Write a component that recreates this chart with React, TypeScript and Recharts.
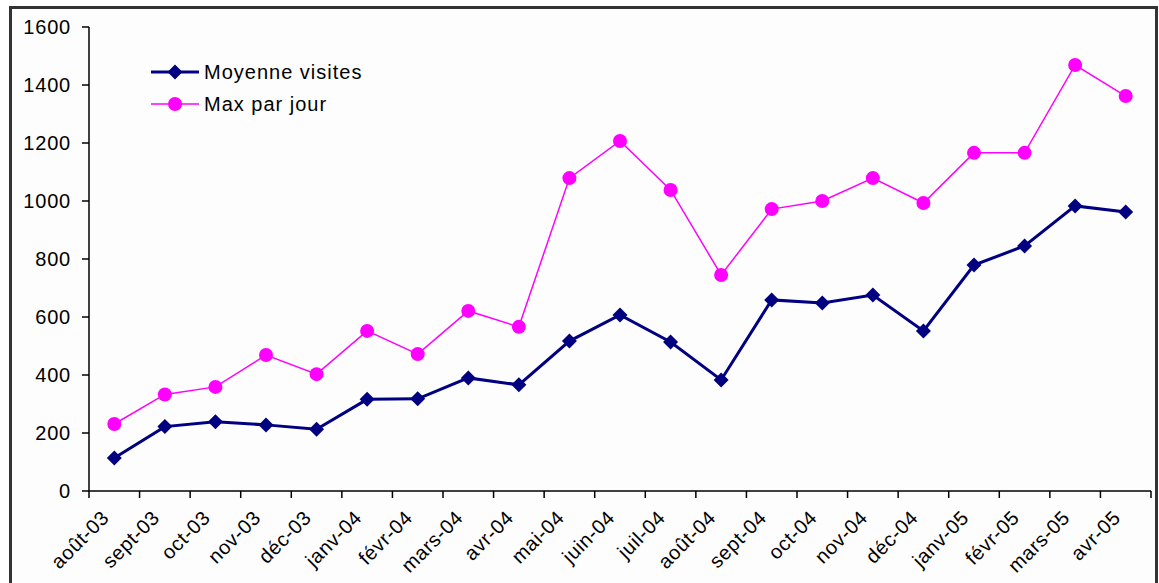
import React from 'react';
import { LineChart, Line, XAxis, YAxis } from 'recharts';

// months shown on the category axis
const months = [
  'août-03', 'sept-03', 'oct-03', 'nov-03', 'déc-03', 'janv-04', 'févr-04',
  'mars-04', 'avr-04', 'mai-04', 'juin-04', 'juil-04', 'août-04', 'sept-04',
  'oct-04', 'nov-04', 'déc-04', 'janv-05', 'févr-05', 'mars-05', 'avr-05',
];

// values
const moyenneVisites = [
  114, 222, 239, 228, 213, 316, 318, 390, 366, 517, 607,
  514, 383, 659, 648, 676, 552, 779, 845, 983, 962,
];
const maxParJour = [
  231, 333, 359, 469, 403, 552, 472, 621, 566, 1079, 1207,
  1038, 745, 972, 1000, 1079, 993, 1166, 1166, 1469, 1362,
];

const yTicks = [0, 200, 400, 600, 800, 1000, 1200, 1400, 1600];

const seriesNames = ['Moyenne visites', 'Max par jour'];

const NAVY = '#000080';
const MAGENTA = '#FF00FF';
const FONT = '"Liberation Sans", Arial, sans-serif';

const W = 1159;
const H = 583;
const PLOT_LEFT = 89;
const PLOT_RIGHT = 1151;
const HALF_BAND = (PLOT_RIGHT - PLOT_LEFT) / months.length / 2;

const data = months.map((m, i) => ({
  month: m,
  moyenne: moyenneVisites[i],
  max: maxParJour[i],
}));

const Diamond = (props: any) => {
  const { cx, cy } = props;
  if (cx == null || cy == null) return null;
  const s = 7.5;
  return (
    <polygon
      points={`${cx},${cy - s} ${cx + s},${cy} ${cx},${cy + s} ${cx - s},${cy}`}
      fill={NAVY}
    />
  );
};

const Circle = (props: any) => {
  const { cx, cy } = props;
  if (cx == null || cy == null) return null;
  return <circle cx={cx} cy={cy} r={7} fill={MAGENTA} />;
};

// Excel style: tick marks sit between the categories, label rotated -45°
const MonthTick = (props: any) => {
  const { x, y, payload, index } = props;
  const last = index === months.length - 1;
  const ax = x - 4;
  const ay = y + 28;
  return (
    <g>
      <line x1={x - HALF_BAND} y1={y} x2={x - HALF_BAND} y2={y + 7} stroke="#000" strokeWidth={1.5} />
      {last && (
        <line x1={x + HALF_BAND} y1={y} x2={x + HALF_BAND} y2={y + 7} stroke="#000" strokeWidth={1.5} />
      )}
      <text
        x={ax}
        y={ay}
        textAnchor="end"
        transform={`rotate(-45, ${ax}, ${ay})`}
        fontSize={20}
        letterSpacing={0.6}
        fill="#000"
        fontFamily={FONT}
      >
        {payload.value}
      </text>
    </g>
  );
};

const LegendBox = () => (
  <div
    style={{
      position: 'fixed',
      left: 149,
      top: 56,
      fontFamily: FONT,
      fontSize: 20,
      letterSpacing: 1,
      color: '#000',
    }}
  >
    {seriesNames.map((name, i) => (
      <div key={name} style={{ display: 'flex', alignItems: 'center', height: 32 }}>
        <svg width={52} height={20}>
          <line x1={2} y1={10} x2={50} y2={10} stroke={i === 0 ? NAVY : MAGENTA} strokeWidth={i === 0 ? 3 : 1.5} />
          {i === 0 ? <Diamond cx={26} cy={10} /> : <Circle cx={26} cy={10} />}
        </svg>
        <span style={{ marginLeft: 3 }}>{name}</span>
      </div>
    ))}
  </div>
);

const App: React.FC = () => {
  return (
    <div>
      <div
        style={{
          position: 'fixed',
          left: 9,
          top: 6,
          width: W - 9 - 1,
          height: H + 20,
          border: '3px solid #333',
          boxSizing: 'border-box',
          background: '#FDFDFD',
        }}
      />
      <div style={{ position: 'fixed', left: 0, top: 0 }}>
        <LineChart
          width={W}
          height={H}
          data={data}
          margin={{ top: 27, right: W - PLOT_RIGHT, bottom: 0, left: 0 }}
        >
          <XAxis
            dataKey="month"
            interval={0}
            height={H - 491}
            padding={{ left: HALF_BAND, right: HALF_BAND }}
            tickLine={false}
            tickSize={0}
            tickMargin={0}
            axisLine={{ stroke: '#000', strokeWidth: 1.5 }}
            tick={<MonthTick />}
          />
          <YAxis
            width={PLOT_LEFT}
            domain={[0, 1600]}
            ticks={yTicks}
            interval={0}
            tickSize={7}
            tickMargin={11}
            axisLine={{ stroke: '#000', strokeWidth: 1.5 }}
            tickLine={{ stroke: '#000', strokeWidth: 1.5 }}
            tick={{ fill: '#000', fontSize: 20, fontFamily: FONT, letterSpacing: 0.8 }}
          />
          <Line
            dataKey="moyenne"
            name={seriesNames[0]}
            stroke={NAVY}
            strokeWidth={3}
            dot={<Diamond />}
            activeDot={false}
            isAnimationActive={false}
          />
          <Line
            dataKey="max"
            name={seriesNames[1]}
            stroke={MAGENTA}
            strokeWidth={1.5}
            dot={<Circle />}
            activeDot={false}
            isAnimationActive={false}
          />
        </LineChart>
      </div>
      <LegendBox />
    </div>
  );
};

export default App;
